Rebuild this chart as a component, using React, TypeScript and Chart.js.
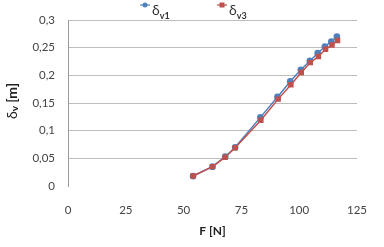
import React, { useEffect, useRef } from "react";
import { Chart, registerables } from "chart.js";
Chart.register(...registerables);

const fV1 = [54.1, 62.5, 68, 72.3, 83.2, 90.6, 96.1, 100.7, 104.6, 108, 111.1, 113.9, 116.3];
const dV1 = [0.018, 0.035, 0.053, 0.07, 0.124, 0.161, 0.189, 0.21, 0.226, 0.24, 0.252, 0.261, 0.27];
const fV3 = [54.1, 62.5, 68, 72.3, 83.4, 90.9, 96.4, 100.9, 104.8, 108.3, 111.4, 114.2, 116.6];
const dV3 = [0.018, 0.035, 0.052, 0.069, 0.119, 0.157, 0.183, 0.205, 0.223, 0.234, 0.247, 0.255, 0.263];
const xTicks = [0, 25, 50, 75, 100, 125];
const yTicks = [0, 0.05, 0.1, 0.15, 0.2, 0.25, 0.3];

const BLUE = "#4F81BD";
const RED = "#C0504D";
const FONT = "Lato, 'Open Sans', sans-serif";

const fmt = (v: number) => String(Math.round(v * 100) / 100).replace(".", ",");

const textPlugin = {
  id: "customText",
  afterDraw(chart: any) {
    const ctx = chart.ctx as CanvasRenderingContext2D;
    const area = chart.chartArea;
    ctx.save();
    const drawEntry = (x: number, color: string, sq: boolean, sub: string) => {
      ctx.strokeStyle = color;
      ctx.lineWidth = 1.2;
      ctx.beginPath();
      ctx.moveTo(x - 5, 5);
      ctx.lineTo(x + 5, 5);
      ctx.stroke();
      ctx.fillStyle = color;
      if (sq) ctx.fillRect(x - 2.5, 2.5, 5, 5);
      else {
        ctx.beginPath();
        ctx.arc(x, 5, 2.5, 0, Math.PI * 2);
        ctx.fill();
      }
      ctx.fillStyle = "#333";
      ctx.textAlign = "left";
      ctx.textBaseline = "alphabetic";
      ctx.font = `14px ${FONT}`;
      ctx.fillText("δ", x + 7, 15);
      const w = ctx.measureText("δ").width;
      ctx.font = `bold 9px ${FONT}`;
      ctx.fillText(sub, x + 7 + w, 19);
    };
    drawEntry(145, BLUE, false, "v1");
    drawEntry(222, RED, true, "v3");

    ctx.fillStyle = "#222";
    ctx.font = `bold 12px ${FONT}`;
    ctx.textAlign = "center";
    ctx.textBaseline = "middle";
    ctx.fillText("F [N]", (area.left + area.right) / 2, 231);

    ctx.save();
    ctx.translate(12, 101);
    ctx.rotate(-Math.PI / 2);
    ctx.textAlign = "left";
    ctx.textBaseline = "middle";
    const p1 = "δ";
    const p3 = " [m]";
    ctx.font = `14px ${FONT}`;
    const w1 = ctx.measureText(p1).width;
    ctx.font = `bold 10px ${FONT}`;
    const w2 = ctx.measureText("v").width;
    ctx.font = `bold 14px ${FONT}`;
    const w3 = ctx.measureText(p3).width;
    let sx = -(w1 + w2 + w3) / 2;
    ctx.font = `14px ${FONT}`;
    ctx.fillText(p1, sx, 0);
    sx += w1;
    ctx.font = `bold 10px ${FONT}`;
    ctx.fillText("v", sx, 3);
    sx += w2;
    ctx.font = `bold 14px ${FONT}`;
    ctx.fillText(p3, sx, 0);
    ctx.restore();

    ctx.restore();
  },
};

export default function App() {
  const ref = useRef<HTMLCanvasElement>(null);
  useEffect(() => {
    if (!ref.current) return;
    const chart = new Chart(ref.current, {
      type: "scatter",
      data: {
        datasets: [
          {
            label: "δv3",
            data: fV3.map((x, i) => ({ x, y: dV3[i] })),
            showLine: true,
            borderColor: RED,
            backgroundColor: RED,
            borderWidth: 1.5,
            pointStyle: "rect",
            pointRadius: 2.8,
          },
          {
            label: "δv1",
            data: fV1.map((x, i) => ({ x, y: dV1[i] })),
            showLine: true,
            borderColor: BLUE,
            backgroundColor: BLUE,
            borderWidth: 1.5,
            pointStyle: "circle",
            pointRadius: 2.6,
          },
        ],
      },
      options: {
        animation: false,
        responsive: false,
        layout: { padding: { left: 0, right: 18, top: 20, bottom: 0 } },
        plugins: { legend: { display: false }, tooltip: { enabled: false } },
        scales: {
          x: {
            type: "linear",
            min: 0,
            max: 125,
            afterBuildTicks: (s: any) => {
              s.ticks = xTicks.map((v) => ({ value: v }));
            },
            afterFit: (s: any) => {
              s.height = 61;
            },
            grid: { display: false, drawTicks: false },
            border: { display: false },
            ticks: {
              color: "#444",
              font: { family: FONT, size: 11.5 },
              padding: 17,
              maxRotation: 0,
              callback: (v: any) => fmt(Number(v)),
            },
          },
          y: {
            type: "linear",
            min: 0,
            max: 0.3,
            afterBuildTicks: (s: any) => {
              s.ticks = yTicks.map((v) => ({ value: v }));
            },
            afterFit: (s: any) => {
              s.width = 68;
            },
            grid: {
              color: (c: any) => (c.tick && c.tick.value === 0 ? "rgba(0,0,0,0)" : "#bdbdbd"),
              lineWidth: 1,
              drawTicks: false,
            },
            border: { display: true, color: "#9a9a9a" },
            ticks: {
              color: "#444",
              font: { family: FONT, size: 11.5 },
              padding: 13,
              callback: (v: any) => fmt(Number(v)),
            },
          },
        },
      },
      plugins: [textPlugin],
    });
    return () => chart.destroy();
  }, []);
  return (
    <div style={{ position: "fixed", left: 0, top: 0, width: 384, height: 247, background: "#fff" }}>
      <canvas ref={ref} width={384} height={247} style={{ width: 384, height: 247 }} />
    </div>
  );
}
